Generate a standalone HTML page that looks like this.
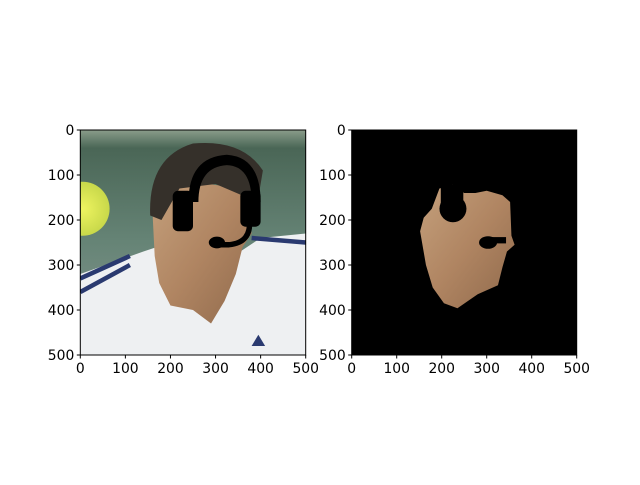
<!DOCTYPE html>
<html><head><meta charset="utf-8"><style>
html,body{margin:0;padding:0;background:#fff;}
svg text{font-family:"DejaVu Sans","Liberation Sans",sans-serif;font-size:13.9px;fill:#000;}
</style></head><body>
<svg width="640" height="480" xmlns="http://www.w3.org/2000/svg">
<defs>
<linearGradient id="bg" x1="0" y1="0" x2="0" y2="1"><stop offset="0" stop-color="#8a9c8a"/><stop offset="0.08" stop-color="#4a6656"/><stop offset="0.5" stop-color="#668476"/><stop offset="1" stop-color="#8a9a94"/></linearGradient>
<radialGradient id="ball"><stop offset="0" stop-color="#eef460"/><stop offset="1" stop-color="#c8d84a"/></radialGradient>
<linearGradient id="skin" x1="0" y1="0" x2="1" y2="1"><stop offset="0" stop-color="#c4a07c"/><stop offset="0.5" stop-color="#b08562"/><stop offset="1" stop-color="#906a4c"/></linearGradient>
</defs>
<svg x="80.3" y="130" width="225.4" height="225" viewBox="0 0 500 500" preserveAspectRatio="none">
<rect width="500" height="500" fill="url(#bg)"/>
<circle cx="5" cy="175" r="60" fill="url(#ball)"/>
<path d="M0,320 L140,270 L230,240 L280,320 L400,240 L500,230 L500,500 L0,500 Z" fill="#eef0f2"/>
<path d="M0,330 L110,280 M0,360 L110,300 M380,240 L500,250" stroke="#2a3a70" stroke-width="10" fill="none"/>
<path d="M160,180 L190,130 L250,115 L320,125 L370,150 L380,230 L360,260 L345,320 L320,380 L290,430 L250,400 L200,390 L175,340 L165,280 Z" fill="url(#skin)"/>
<path d="M155,190 Q150,60 250,30 Q360,20 405,90 L390,180 L370,150 L300,120 L220,130 L180,200 Z" fill="#35302a"/>
<path d="M240,160 Q240,60 325,55 Q400,60 400,160 L380,160 Q380,80 325,78 Q262,82 262,160 Z" fill="#000"/>
<rect x="205" y="135" width="45" height="90" rx="12" fill="#000"/>
<rect x="355" y="135" width="45" height="80" rx="12" fill="#000"/>
<path d="M375,200 Q380,250 330,255 L300,255" stroke="#000" stroke-width="12" fill="none"/>
<ellipse cx="303" cy="250" rx="18" ry="13" fill="#000"/>
<path d="M380,480 L395,455 L410,480 Z" fill="#2a3a70"/>
</svg>
<rect x="80.3" y="130" width="225.4" height="225" fill="none" stroke="#000" stroke-width="1"/>
<svg x="351.7" y="130" width="225" height="225" viewBox="0 0 500 500" preserveAspectRatio="none">
<rect width="500" height="500" fill="#000"/>
<path d="M195,130 L225,122 L250,140 L275,140 L300,135 L335,145 L352,160 L355,235 L362,255 L345,270 L335,305 L325,345 L280,365 L235,396 L205,385 L180,350 L165,300 L152,225 L160,195 L178,175 Z" fill="url(#skin)"/>
<circle cx="225" cy="175" r="30" fill="#000"/>
<rect x="198" y="122" width="50" height="55" fill="#000"/>
<ellipse cx="303" cy="250" rx="20" ry="14" fill="#000"/>
<rect x="303" y="238" width="40" height="14" fill="#000"/>
</svg>
<rect x="351.7" y="130" width="225" height="225" fill="none" stroke="#000" stroke-width="1"/>
<g id="ticks"></g>
</svg>
<script>
const tickVals=[0,100,200,300,400,500];
const axesList=[{x0:80.3,w:225.4,name:'left'},{x0:351.7,w:225,name:'right'}];
const y0=130,h=225,ns='http://www.w3.org/2000/svg';
const g=document.getElementById('ticks');
function mk(t,a){const e=document.createElementNS(ns,t);for(const k in a)e.setAttribute(k,a[k]);g.appendChild(e);return e;}
axesList.forEach(ax=>{
 tickVals.forEach(v=>{
  const px=ax.x0+v/500*ax.w, py=y0+v/500*h;
  const l1=mk('line',{x1:px,x2:px,y1:y0+h,y2:y0+h+3.5,stroke:'#000'});
  
  
  const t1=mk('text',{x:px,y:y0+h+18,'text-anchor':'middle'});t1.textContent=v;
  
  
  const l2=mk('line',{x1:ax.x0-3.5,x2:ax.x0,y1:py,y2:py,stroke:'#000'});
  
  
  const t2=mk('text',{x:ax.x0-6,y:py+5,'text-anchor':'end'});t2.textContent=v;
  
  
 });
});
</script>
</body></html>
